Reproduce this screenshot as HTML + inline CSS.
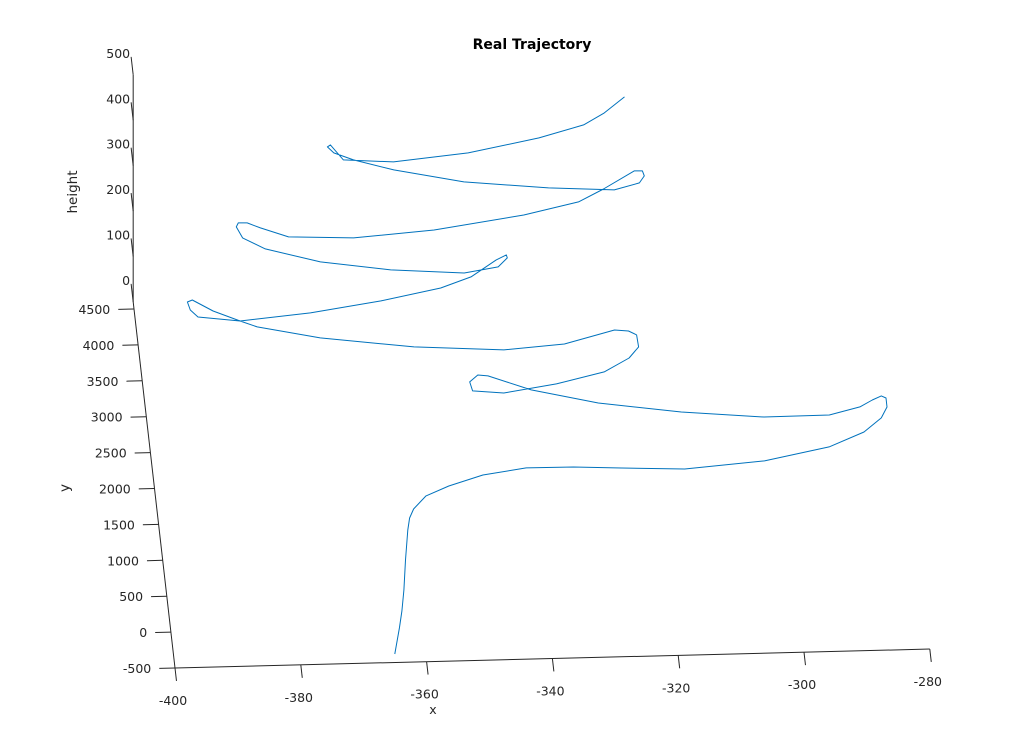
<!DOCTYPE html>
<html><head><meta charset="utf-8"><title>Real Trajectory</title>
<style>
html,body{margin:0;padding:0;background:#fff;}
svg{display:block;font-family:"DejaVu Sans","Liberation Sans",sans-serif;}
</style></head>
<body>
<svg id="chart" width="1028" height="752" viewBox="0 0 1028 752" xmlns="http://www.w3.org/2000/svg">
<rect width="1028" height="752" fill="#fff"/>
<text x="532" y="49" text-anchor="middle" font-size="14" font-weight="bold" fill="#000">Real Trajectory</text>
<g id="axes"></g>
<path id="traj" fill="none" stroke="#0072BD" stroke-width="1" stroke-linejoin="round"/>
</svg>
<script>
const xTicks = [-400, -380, -360, -340, -320, -300, -280];
const yTicks = [-500, 0, 500, 1000, 1500, 2000, 2500, 3000, 3500, 4000, 4500];
const zTicks = [0, 100, 200, 300, 400, 500];
const trajX = [-364.9,-363.7,-363.0,-362.3,-361.5,-360.6,-360.1,-359.3,-357.1,-353.3,-347.7,-340.7,-333.2,-325.6,-315.6,-302.8,-292.3,-286.5,-283.5,-282.4,-282.4,-283.1,-284.6,-286.7,-291.7,-302.1,-315.1,-328.1,-338.5,-345.1,-346.7,-348.1,-347.8,-342.9,-334.4,-326.6,-322.4,-320.7,-320.8,-322.0,-324.2,-332.4,-342.1,-356.3,-371.0,-380.8,-383.4,-387.5,-390.6,-391.4,-391.1,-390.0,-383.4,-372.1,-360.7,-351.0,-346.0,-341.7,-340.0,-339.9,-341.5,-347.0,-358.6,-369.6,-378.1,-381.5,-382.3,-381.9,-380.5,-378.5,-374.2,-363.9,-351.0,-336.5,-327.6,-323.4,-318.2,-316.9,-316.7,-317.6,-321.7,-332.1,-345.4,-356.3,-362.5,-365.5,-366.4,-365.9,-364.1,-356.2,-344.2,-332.7,-325.4,-321.9,-318.4];
const trajY = [-382,-23,213,504,919,1335,1502,1625,1802,1932,2073,2156,2153,2122,2086,2170,2342,2537,2727,2877,3002,3032,2979,2887,2786,2781,2879,3033,3238,3447,3464,3370,3244,3205,3312,3462,3647,3798,3965,4022,4041,3864,3803,3876,4033,4208,4297,4445,4605,4579,4467,4367,4297,4384,4526,4685,4828,5055,5121,5079,4957,4885,4953,5089,5289,5449,5604,5659,5656,5582,5447,5411,5493,5670,5832,6003,6243,6240,6171,6075,5987,6037,6150,6341,6494,6598,6684,6710,6497,6453,6551,6735,6900,7059,7274];
const xLim = [-400, -280], yLim = [-500, 4600], zLim = [0, 500];

function P(x, y, z) {
  const u = x + 400, v = y + 500;
  return [175 + u * 6.29 - v * 0.0082, 668 - u * 0.158 - v * 0.0718 - z * 0.454];
}
const NS = "http://www.w3.org/2000/svg";
const axes = document.getElementById("axes");
function line(a, b, name) {
  const l = document.createElementNS(NS, "line");
  l.setAttribute("x1", a[0]); l.setAttribute("y1", a[1]);
  l.setAttribute("x2", b[0]); l.setAttribute("y2", b[1]);
  l.setAttribute("stroke", "#262626"); l.setAttribute("stroke-width", "1");
  
  
  axes.appendChild(l);
}
function label(x, y, s, anchor, name) {
  const t = document.createElementNS(NS, "text");
  t.setAttribute("x", x); t.setAttribute("y", y);
  t.setAttribute("text-anchor", anchor); t.setAttribute("font-size", "12.5");
  t.setAttribute("fill", "#262626");
  t.textContent = s;
  
  
  axes.appendChild(t);
  return t;
}
line(P(xLim[0], yLim[0], 0), P(xLim[1], yLim[0], 0), "x-axis-line");
line(P(xLim[0], yLim[0], 0), P(xLim[0], yLim[1], 0), "y-axis-line");
line(P(xLim[0], yLim[1], zLim[0]), P(xLim[0], yLim[1], zLim[1]), "z-axis-line");
xTicks.forEach(v => {
  const a = P(v, yLim[0], 0), b = P(v, yLim[0] - 180, 0);
  line(a, b, "x-tick");
  label(a[0] - 2, a[1] + 37, String(v), "middle", "x-tick-label");
});
yTicks.forEach(v => {
  const a = P(xLim[0], v, 0), b = P(xLim[0] - 2.5, v, 0);
  line(a, b, "y-tick");
  label(b[0] - 8, a[1] + 5, String(v), "end", "y-tick-label");
});
zTicks.forEach(v => {
  const a = P(xLim[0], yLim[1], v), b = P(xLim[0], yLim[1] + 250, v);
  line(a, b, "z-tick");
  label(b[0] - 1, b[1] + 1, String(v), "end", "z-tick-label");
});
label(433, 714, "x", "middle", "x-axis-title");
const yt = label(0, 0, "y", "middle", "y-axis-title");
yt.setAttribute("font-size", "13.5");
yt.setAttribute("transform", "translate(69,488) rotate(-90)");
const zt = label(0, 0, "height", "middle", "z-axis-title");
zt.setAttribute("font-size", "13.5");
zt.setAttribute("transform", "translate(77,192) rotate(-90)");
let d = "";
trajX.forEach((x, i) => {
  const p = P(x, trajY[i], 0);
  d += (i ? "L" : "M") + p[0].toFixed(1) + "," + p[1].toFixed(1);
});
document.getElementById("traj").setAttribute("d", d);
</script>
</body></html>
